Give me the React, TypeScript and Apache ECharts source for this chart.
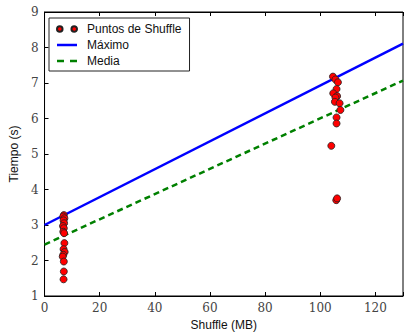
import React, { useEffect, useRef } from "react";
import * as echarts from "echarts";

const smallX = [7.0, 6.8, 7.2, 6.9, 7.1, 6.7, 7.0, 6.8, 7.1, 7.2, 6.9, 7.3, 6.8, 6.6, 7.0, 7.0, 6.9];
const smallY = [3.28, 3.24, 3.19, 3.13, 3.05, 2.97, 2.91, 2.81, 2.77, 2.49, 2.32, 2.24, 2.16, 2.11, 1.97, 1.69, 1.47];
const bigX = [104.6, 105.5, 106.4, 105.9, 104.7, 106.1, 105.5, 105.3, 107.0, 107.3, 105.9, 105.9, 104.0, 105.8, 106.1];
const bigY = [7.18, 7.1, 7.02, 6.83, 6.71, 6.63, 6.59, 6.47, 6.43, 6.24, 6.03, 5.86, 5.23, 3.7, 3.75];
const maxLine = [[0, 3.0], [130, 8.11]];
const meanLine = [[0, 2.45], [130, 7.07]];
const xTicks = [0, 20, 40, 60, 80, 100, 120];
const yTicks = [1, 2, 3, 4, 5, 6, 7, 8, 9];

export default function App() {
  const ref = useRef<HTMLDivElement>(null);
  useEffect(() => {
    if (!ref.current) return;
    const chart = echarts.init(ref.current, null, { renderer: "svg" });
    const points = smallX.map((x, i) => [x, smallY[i]]).concat(bigX.map((x, i) => [x, bigY[i]]));
    const serif = "'DejaVu Serif', 'Liberation Serif', serif";
    const sans = "'Liberation Sans', Arial, sans-serif";
    chart.setOption({
      animation: false,
      backgroundColor: "#ffffff",
      grid: { left: 43, top: 12, width: 368, height: 284, show: true, borderColor: "#000", borderWidth: 1, backgroundColor: "transparent" },
      legend: {
        orient: "vertical",
        left: 49,
        top: 18,
        padding: [5, 8, 4, 7],
        itemWidth: 20,
        itemHeight: 7,
        itemGap: 4,
        borderColor: "#222",
        borderWidth: 1,
        backgroundColor: "#fff",
        textStyle: { fontFamily: sans, fontSize: 12, color: "#111", padding: [0, 0, 0, 5] },
        data: [
          { name: "Puntos de Shuffle", icon: "path://M0,5 a5,5 0 1,0 10,0 a5,5 0 1,0 -10,0 M26,5 a5,5 0 1,0 10,0 a5,5 0 1,0 -10,0" },
          { name: "Máximo", icon: "path://M0,0h20v2.5h-20z" },
          { name: "Media", icon: "path://M0,0h7v2.5h-7z M13,0h7v2.5h-7z" },
        ],
      },
      xAxis: [
        {
          type: "value",
          min: 0,
          max: 130,
          interval: 20,
          name: "Shuffle (MB)",
          nameLocation: "middle",
          nameGap: 23,
          nameTextStyle: { fontFamily: sans, fontSize: 12, color: "#111" },
          axisLine: { lineStyle: { color: "#000" } },
          axisTick: { inside: true, length: 4, lineStyle: { color: "#000" } },
          axisLabel: {
            fontFamily: serif,
            fontSize: 12,
            color: "#444",
            margin: 6,
            formatter: (v: number) => (xTicks.includes(v) ? String(v) : ""),
          },
          splitLine: { show: false },
        },
        {
          type: "value",
          position: "top",
          min: 0,
          max: 130,
          interval: 20,
          axisLine: { lineStyle: { color: "#000" } },
          axisTick: { inside: true, length: 4, lineStyle: { color: "#000" } },
          axisLabel: { show: false },
          splitLine: { show: false },
        },
      ],
      yAxis: {
        type: "value",
        min: 1,
        max: 9,
        interval: 1,
        name: "Tiempo (s)",
        nameLocation: "middle",
        nameGap: 21,
        nameTextStyle: { fontFamily: sans, fontSize: 12, color: "#111" },
        axisLine: { lineStyle: { color: "#000" } },
        axisTick: { inside: true, length: 4, lineStyle: { color: "#000" } },
        axisLabel: {
          fontFamily: serif,
          fontSize: 12,
          color: "#444",
          margin: 6,
          formatter: (v: number) => (yTicks.includes(v) ? String(v) : ""),
        },
        splitLine: { show: false },
      },
      series: [
        {
          name: "Máximo",
          type: "line",
          data: maxLine,
          symbol: "none",
          lineStyle: { color: "#0000ff", width: 2.5 },
          itemStyle: { color: "#0000ff" },
          z: 2,
        },
        {
          name: "Media",
          type: "line",
          data: meanLine,
          symbol: "none",
          lineStyle: { color: "#008000", width: 2.5, type: [6, 4] },
          itemStyle: { color: "#008000" },
          z: 2,
        },
        {
          name: "Puntos de Shuffle",
          type: "scatter",
          data: points,
          symbol: "circle",
          symbolSize: 7,
          itemStyle: { color: "#ff0000", borderColor: "#222", borderWidth: 0.8, opacity: 1 },
          z: 3,
        },
      ],
    });
    return () => chart.dispose();
  }, []);
  return <div ref={ref} style={{ position: "absolute", left: 0, top: 0, width: 406, height: 336 }} />;
}
